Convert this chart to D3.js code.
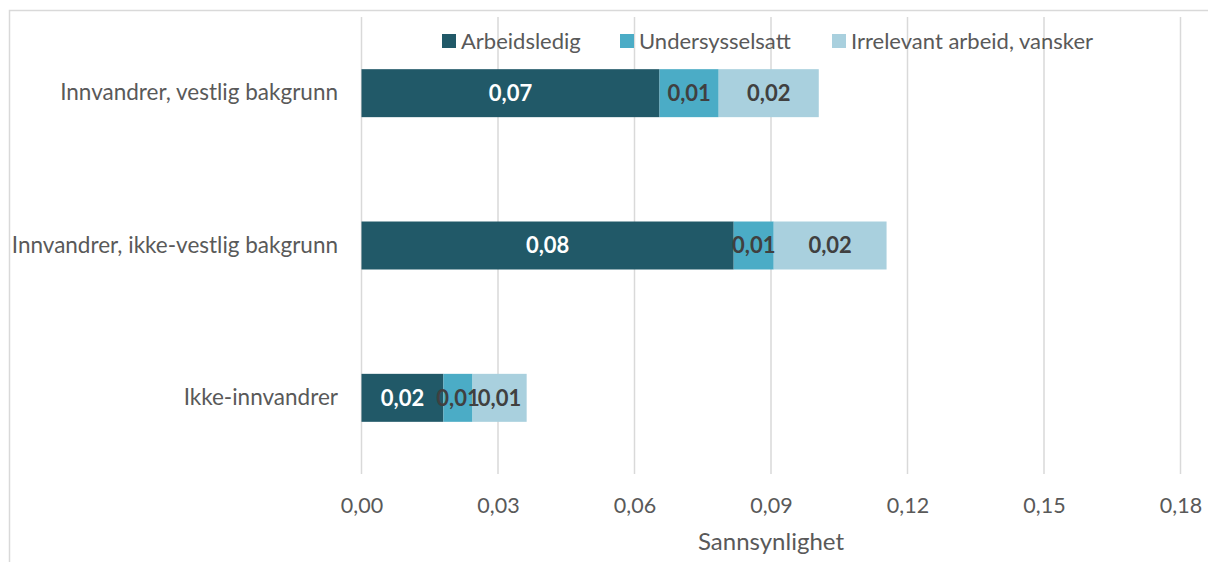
<!DOCTYPE html>
<html>
<head>
<meta charset="utf-8">
<script src="https://cdn.jsdelivr.net/npm/d3@7"></script>
<style>
  body { margin: 0; background: #fff; }
  svg { display: block; font-family: Lato, "Open Sans", sans-serif; }
</style>
</head>
<body>
<div id="chart"></div>
<script>
// categories top to bottom
const categories = ["Innvandrer, vestlig bakgrunn", "Innvandrer, ikke-vestlig bakgrunn", "Ikke-innvandrer"];
const seriesNames = ["Arbeidsledig", "Undersysselsatt", "Irrelevant arbeid, vansker"];
const arbeidsledig = [0.0655, 0.0818, 0.0180];
const undersysselsatt = [0.0130, 0.0088, 0.0064];
const irrelevant = [0.0220, 0.0248, 0.0119];
const tickValues = [0, 0.03, 0.06, 0.09, 0.12, 0.15, 0.18];
const axisTitle = "Sannsynlighet";

const colors = ["#215968", "#4BACC6", "#A9D0DE"];
const labelColors = ["#ffffff", "#404040", "#404040"];

const width = 1208, height = 562;
const plot = {left: 361.5, right: 1180.5, top: 17, bottom: 474};

const no = d3.formatLocale({decimal: ",", thousands: " ", grouping: [3], currency: ["", " kr"]});
const fmt = no.format(".2f");

const rows = categories.map((c, i) => ({
  cat: c, Arbeidsledig: arbeidsledig[i], Undersysselsatt: undersysselsatt[i],
  "Irrelevant arbeid, vansker": irrelevant[i]
}));
const stacked = d3.stack().keys(seriesNames)(rows);

const x = d3.scaleLinear().domain([0, 0.18]).range([plot.left, plot.right]);
const y = d3.scaleBand().domain(categories).range([plot.top, plot.bottom])
  .paddingInner(0.685).paddingOuter(0.3425);

const svg = d3.select("#chart").append("svg")
  .attr("width", width).attr("height", height);

// chart area border
svg.append("path")
  .attr("d", `M9.5,${height} V10.5 H${width}`)
  .attr("fill", "none").attr("stroke", "#d9d9d9").attr("stroke-width", 1.5);

// gridlines
svg.append("g").selectAll("line").data(tickValues).join("line")
  .attr("x1", d => x(d)).attr("x2", d => x(d))
  .attr("y1", plot.top).attr("y2", plot.bottom)
  .attr("stroke", "#d9d9d9").attr("stroke-width", 1.5);

// bars
const layer = svg.append("g").selectAll("g").data(stacked).join("g")
  .attr("fill", (d, i) => colors[i]);
layer.selectAll("rect").data(d => d).join("rect")
  .attr("x", d => x(d[0]))
  .attr("width", d => x(d[1]) - x(d[0]))
  .attr("y", d => y(d.data.cat))
  .attr("height", y.bandwidth());

// data labels
const lab = svg.append("g").selectAll("g").data(stacked).join("g")
  .attr("fill", (d, i) => labelColors[i]);
lab.selectAll("text").data(d => d).join("text")
  .attr("x", d => (x(d[0]) + x(d[1])) / 2)
  .attr("y", d => y(d.data.cat) + y.bandwidth() / 2)
  .attr("dy", "0.36em")
  .attr("text-anchor", "middle")
  .attr("font-size", 22).attr("font-weight", "bold")
  .text(d => fmt(d[1] - d[0]));

// y axis labels
const yAxis = svg.append("g")
  .attr("transform", `translate(${plot.left},0)`)
  .call(d3.axisLeft(y).tickSize(0).tickPadding(23.5));
yAxis.select(".domain").remove();
yAxis.selectAll("text").attr("font-size", 22.5).attr("fill", "#595959")
  .style("font-family", "Lato, 'Open Sans', sans-serif");

// x axis labels
const xAxis = svg.append("g")
  .attr("transform", `translate(0,${plot.bottom})`)
  .call(d3.axisBottom(x).tickValues(tickValues).tickSize(0).tickPadding(23.5).tickFormat(fmt));
xAxis.select(".domain").remove();
xAxis.selectAll("text").attr("font-size", 21.5).attr("fill", "#595959")
  .style("font-family", "Lato, 'Open Sans', sans-serif");

// axis title
svg.append("text")
  .attr("x", (plot.left + plot.right) / 2).attr("y", 550)
  .attr("text-anchor", "middle").attr("font-size", 24).attr("fill", "#595959")
  .text(axisTitle);

// legend
const legendX = [442, 620, 832];
const leg = svg.append("g").selectAll("g").data(seriesNames).join("g")
  .attr("transform", (d, i) => `translate(${legendX[i]},34)`);
leg.append("rect").attr("width", 14).attr("height", 14).attr("fill", (d, i) => colors[i]);
leg.append("text").attr("x", 19).attr("y", 14.5)
  .attr("font-size", 22).attr("fill", "#595959").text(d => d);
</script>
</body>
</html>
